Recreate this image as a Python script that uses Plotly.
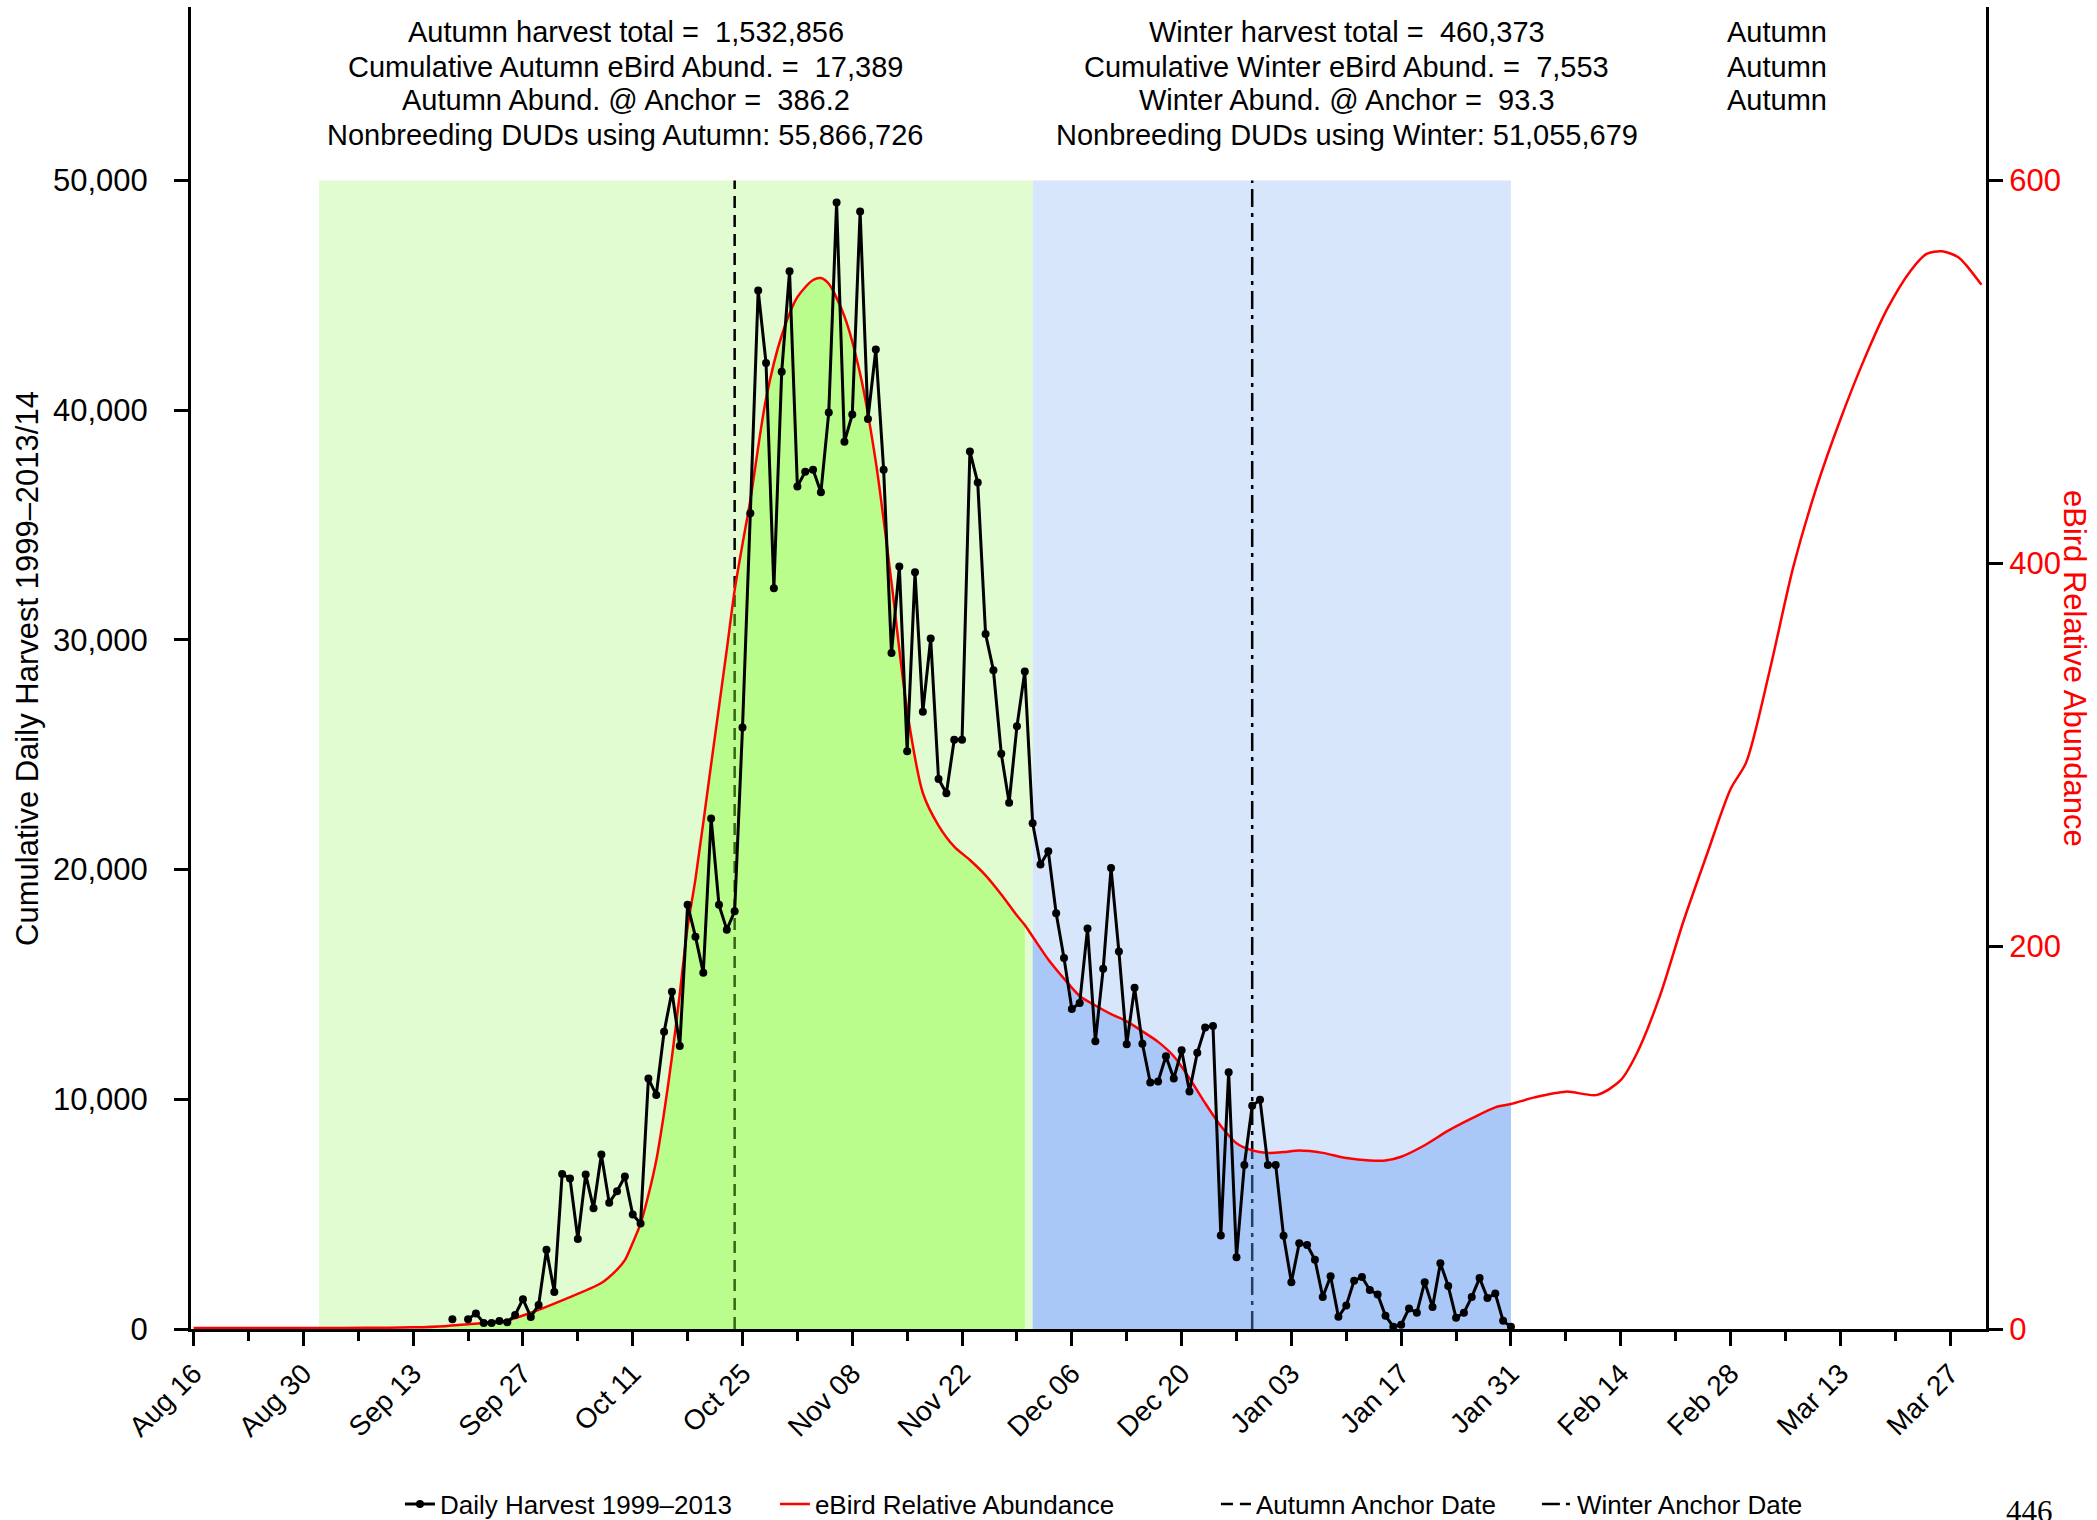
# %%
import pandas as pd
import plotly.graph_objects as go

# %%
# Values.
# Season drawn on a 2015/16 calendar (leap year, so the 14-day ticks land on Mar 13 / Mar 27).

harvest_start = "2015-09-18"
harvest_values = [
    420, None, 420, 680, 265, 265, 350, 290, 610, 1300, 525, 1050, 3445, 1610,
    6750, 6555, 3920, 6730, 5260, 7595, 5500, 5995, 6640, 4980, 4590, 10900,
    10190, 12935, 14685, 12325, 18465, 17080, 15505, 22225, 18465, 17385, 18185,
    26180, 35515, 45213, 42054, 32250, 41668, 46048, 36680, 37320, 37400, 36430,
    39895, 49040, 38620, 39810, 48650, 39620, 42640, 37400, 29425, 33190, 25155,
    32940, 26875, 30060, 23940, 23325, 25655, 25655, 38205, 36845, 30255, 28675,
    25045, 22910, 26235, 28620, 22020, 20220, 20800, 18100, 16150, 13930, 14190,
    17430, 12525, 15680, 20065, 16435, 12395, 14860, 12415, 10730, 10775, 11875,
    10905, 12135, 10340, 12025, 13130, 13195, 4075, 11180, 3125, 7140, 9715, 9975,
    7140, 7140, 4055, 2040, 3730, 3660, 3015, 1395, 2300, 530, 1025, 2105, 2260,
    1700, 1500, 575, 100, 185, 895, 705, 2040, 960, 2865, 1870, 485, 705, 1395,
    2215, 1350, 1545, 355, 100,
]

abund_dates = [
    "2015-08-16", "2015-08-26", "2015-09-01", "2015-09-07", "2015-09-13",
    "2015-09-17", "2015-09-20", "2015-09-23", "2015-09-25", "2015-09-28",
    "2015-10-02", "2015-10-07", "2015-10-09", "2015-10-10", "2015-10-11",
    "2015-10-12", "2015-10-13", "2015-10-14", "2015-10-15", "2015-10-16",
    "2015-10-17", "2015-10-18", "2015-10-19", "2015-10-21", "2015-10-23",
    "2015-10-24", "2015-10-25", "2015-10-26", "2015-10-28", "2015-10-30",
    "2015-11-01", "2015-11-03", "2015-11-04", "2015-11-05", "2015-11-07",
    "2015-11-09", "2015-11-11", "2015-11-13", "2015-11-15", "2015-11-17",
    "2015-11-19", "2015-11-21", "2015-11-23", "2015-11-25", "2015-11-27",
    "2015-11-29", "2015-11-30", "2015-12-01", "2015-12-03", "2015-12-05",
    "2015-12-07", "2015-12-09", "2015-12-11", "2015-12-13", "2015-12-15",
    "2015-12-17", "2015-12-19", "2015-12-21", "2015-12-23", "2015-12-25",
    "2015-12-27", "2015-12-29", "2015-12-31", "2016-01-02", "2016-01-04",
    "2016-01-07", "2016-01-10", "2016-01-13", "2016-01-15", "2016-01-17",
    "2016-01-20", "2016-01-23", "2016-01-26", "2016-01-29", "2016-01-31",
    "2016-02-03", "2016-02-07", "2016-02-11", "2016-02-14", "2016-02-16",
    "2016-02-19", "2016-02-22", "2016-02-25", "2016-02-28", "2016-03-01",
    "2016-03-04", "2016-03-07", "2016-03-10", "2016-03-13", "2016-03-16",
    "2016-03-19", "2016-03-22", "2016-03-24", "2016-03-26", "2016-03-28",
    "2016-03-29", "2016-03-31",
]
abund_values = [
    0.5, 0.5, 0.5, 0.6, 0.9,
    1.5, 2.5, 3.5, 4.5, 8.5,
    15, 24, 31, 36, 45,
    55, 70, 88, 113, 142,
    175, 210, 235, 295, 355,
    386, 410, 433, 486, 519,
    539, 548, 549, 546, 529,
    499, 453, 390, 323, 280,
    263, 252, 245, 237, 227,
    216, 211, 205, 193, 183,
    174, 169, 164.5, 160.7, 155.5,
    150, 142.5, 131, 118, 106,
    97, 93.3, 92, 92.4, 93.2,
    92, 89.3, 88, 88, 90,
    96, 103.6, 110, 115.8, 117.5,
    121, 124, 122.3, 130, 143.5,
    174, 213, 248, 282, 296,
    344, 398, 440, 475, 506,
    533, 553, 561.6, 563, 560,
    556, 545.5,
]

autumn_start = "2015-09-01"
autumn_fill_end = "2015-11-30"
winter_start = "2015-12-01"
winter_end = "2016-01-31"
autumn_anchor = "2015-10-24"
winter_anchor = "2015-12-29"

harvest_ticks = [0, 10000, 20000, 30000, 40000, 50000]
abund_ticks = [0, 200, 400, 600]

autumn_text = [
    "Autumn harvest total = \u00a01,532,856",
    "Cumulative Autumn eBird Abund. = \u00a017,389",
    "Autumn Abund. @ Anchor = \u00a0386.2",
    "Nonbreeding DUDs using Autumn: 55,866,726",
]
winter_text = [
    "Winter harvest total = \u00a0460,373",
    "Cumulative Winter eBird Abund. = \u00a07,553",
    "Winter Abund. @ Anchor = \u00a093.3",
    "Nonbreeding DUDs using Winter: 51,055,679",
]
side_text = ["Autumn", "Autumn", "Autumn"]

# %%
# styling
FONT = "Liberation Sans, Arial, Helvetica, sans-serif"
DAY_MS = 86400000
SHADE_TOP = 50000  # harvest units
LEFT_TOP = 57550
RIGHT_PER_LEFT = 600 / 50000  # 600 on the right lines up with 50,000 on the left

harvest_dates = pd.date_range(harvest_start, periods=len(harvest_values), freq="D")
abund = pd.Series(abund_values, index=pd.to_datetime(abund_dates))
autumn_part = abund[autumn_start:autumn_fill_end]
winter_part = abund[winter_start:winter_end]

fig = go.Figure()

# anchor lines (under the season fills, as in the original)
fig.add_trace(
    go.Scatter(
        x=[autumn_anchor, autumn_anchor],
        y=[0, SHADE_TOP * RIGHT_PER_LEFT],
        mode="lines",
        line=dict(color="black", width=2.5, dash="12px,7px"),
        name="Autumn Anchor Date",
        legend="legend3",
        yaxis="y",
    )
)
fig.add_trace(
    go.Scatter(
        x=[winter_anchor, winter_anchor],
        y=[0, SHADE_TOP * RIGHT_PER_LEFT],
        mode="lines",
        line=dict(color="black", width=2.5, dash="18px,6px,4px,6px"),
        name="Winter Anchor Date",
        legend="legend4",
        yaxis="y",
    )
)

# area under the abundance curve for each season
for part, color in [
    (autumn_part, "rgba(131,255,38,0.4)"),
    (winter_part, "rgba(101,155,242,0.4)"),
]:
    fig.add_trace(
        go.Scatter(
            x=part.index,
            y=part.values,
            mode="lines",
            line=dict(width=0, shape="spline", smoothing=0.8),
            fill="tozeroy",
            fillcolor=color,
            showlegend=False,
            hoverinfo="skip",
            yaxis="y",
        )
    )

fig.add_trace(
    go.Scatter(
        x=abund.index,
        y=abund.values,
        mode="lines",
        line=dict(color="red", width=2.5, shape="spline", smoothing=0.8),
        name="eBird Relative Abundance",
        legend="legend2",
        yaxis="y",
    )
)

fig.add_trace(
    go.Scatter(
        x=harvest_dates,
        y=harvest_values,
        mode="lines+markers",
        line=dict(color="black", width=3),
        marker=dict(color="black", size=8),
        connectgaps=False,
        name="Daily Harvest 1999\u20132013",
        legend="legend",
        yaxis="y2",
    )
)

# light season backgrounds
fig.add_shape(
    type="rect", xref="x", yref="y", layer="below",
    x0=autumn_start, x1=winter_start, y0=0, y1=SHADE_TOP * RIGHT_PER_LEFT,
    fillcolor="#e0fcd0", line_width=0,
)
fig.add_shape(
    type="rect", xref="x", yref="y", layer="below",
    x0=winter_start, x1=winter_end, y0=0, y1=SHADE_TOP * RIGHT_PER_LEFT,
    fillcolor="#d8e6fc", line_width=0,
)

# %%
# text blocks at the top
line_y = [0.9810, 0.9547, 0.9294, 0.9032]
for block, xpos in [(autumn_text, 0.2423), (winter_text, 0.644), (side_text, 0.8836)]:
    for txt, ypos in zip(block, line_y):
        fig.add_annotation(
            text=txt, x=xpos, y=ypos, xref="paper", yref="paper",
            xanchor="center", yanchor="middle", showarrow=False,
            font=dict(size=29, color="black"),
        )

fig.add_annotation(
    text="Cumulative Daily Harvest 1999\u20132013/14",
    x=-0.0914, y=0.5, xref="paper", yref="paper", textangle=-90,
    xanchor="center", yanchor="middle", showarrow=False,
    font=dict(size=31, color="black"),
)
fig.add_annotation(
    text="eBird Relative Abundance",
    x=1.0496, y=0.5, xref="paper", yref="paper", textangle=90,
    xanchor="center", yanchor="middle", showarrow=False,
    font=dict(size=31, color="red"),
)
# page number, half off the bottom edge as in the original
fig.add_annotation(
    text="446", x=1.0245, y=-0.1235, xref="paper", yref="paper",
    xanchor="center", yanchor="top", showarrow=False,
    font=dict(size=31, color="black", family="Liberation Serif, Times New Roman, serif"),
)

# legends sit in the bottom margin; container ref keeps them from pushing the margins
legend_style = dict(
    y=0.0105, yref="container", xanchor="left", yanchor="middle", orientation="h",
    bgcolor="rgba(0,0,0,0)", font=dict(size=26, color="black"),
)

axis_common = dict(
    showline=True, linecolor="black", linewidth=3,
    ticks="outside", ticklen=14, tickwidth=3, tickcolor="black",
    showgrid=False, zeroline=False,
)

fig.update_layout(
    width=2097,
    height=1520,
    margin=dict(l=191, r=111, t=7, b=191),
    plot_bgcolor="white",
    paper_bgcolor="white",
    font=dict(family=FONT, size=31, color="black"),
    legend=dict(x=0.1164, **legend_style),
    legend2=dict(x=0.3253, **legend_style),
    legend3=dict(x=0.5710, **legend_style),
    legend4=dict(x=0.7498, **legend_style),
    xaxis=dict(
        type="date",
        range=["2015-08-15 16:00", "2016-03-31 14:00"],
        tick0="2015-08-16",
        dtick=14 * DAY_MS,
        tickformat="%b %d",
        tickangle=-45,
        tickfont=dict(size=28),
        minor=dict(
            ticks="outside", tick0="2015-08-16", dtick=7 * DAY_MS,
            ticklen=9, tickwidth=3, tickcolor="black", showgrid=False,
        ),
        **axis_common,
    ),
    yaxis=dict(
        side="right",
        range=[0, LEFT_TOP * RIGHT_PER_LEFT],
        tickvals=abund_ticks,
        tickfont=dict(size=31, color="red"),
        **axis_common,
    ),
    yaxis2=dict(
        overlaying="y",
        side="left",
        anchor="x",
        range=[0, LEFT_TOP],
        tickvals=harvest_ticks,
        tickformat=",",
        tickfont=dict(size=31, color="black"),
        ticklabelstandoff=20,
        **axis_common,
    ),
)

# page body has a default 8px margin; drop it so the figure sits at the top-left corner
fig.write_html(
    "out.html",
    config={"displayModeBar": False},
    post_script="document.body.style.margin='0';document.body.style.overflow='hidden';",
)
